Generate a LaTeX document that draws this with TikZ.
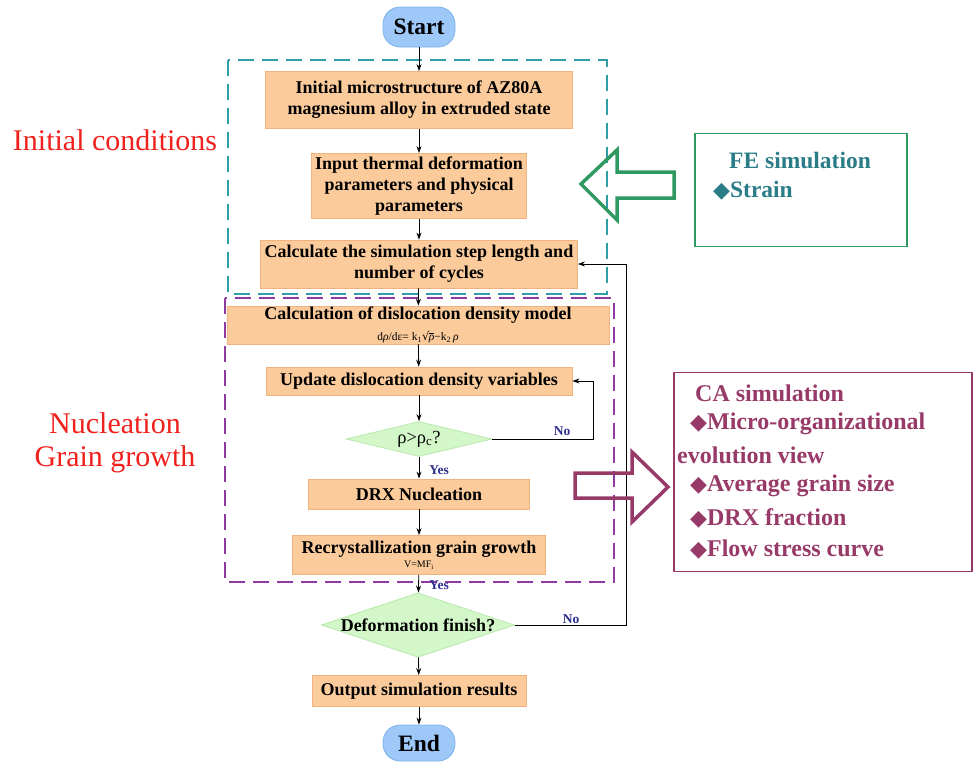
\documentclass[tikz,border=0pt]{standalone}
\usepackage{fontspec}
\setmainfont{Liberation Serif}
\newfontfamily\dejavu{DejaVu Sans}
\usetikzlibrary{shapes.geometric,arrows.meta}
\definecolor{boxfill}{HTML}{FBCB9C}
\definecolor{boxline}{HTML}{F2B27E}
\definecolor{dfill}{HTML}{D4F7C9}
\definecolor{dline}{HTML}{B9E8AE}
\definecolor{sfill}{HTML}{9DC8F8}
\definecolor{sline}{HTML}{7FB2EC}
\definecolor{cyanbox}{HTML}{2E9FA8}
\definecolor{purplebox}{HTML}{8E3A9E}
\definecolor{fegreen}{HTML}{2E9A62}
\definecolor{feteal}{HTML}{2A7C86}
\definecolor{camaroon}{HTML}{983A68}
\definecolor{yesno}{HTML}{2C2F8E}
\definecolor{redtxt}{HTML}{F0201C}
\newcommand{\dmd}{{\dejavu\fontsize{22}{22}\selectfont ◆}}
\newcommand{\sqrho}{{\dejavu √}\kern-0.6pt$\overline{\hbox{\textit{ρ}}}$}
\tikzset{
  stepbox/.style={draw=boxline, fill=boxfill, line width=0.8pt, align=center, font=\fontsize{18}{21}\selectfont\bfseries, inner sep=1pt},
  plaintext/.style={inner sep=0pt, align=center},
  decbox/.style={draw=dline, fill=dfill, diamond, line width=0.8pt, inner sep=0pt, align=center},
  termbox/.style={draw=sline, fill=sfill, rounded corners=17pt, line width=0.8pt, font=\fontsize{23.5}{25}\selectfont\bfseries},
  flow/.style={-{Stealth[length=7pt,width=5pt]}, line width=0.8pt, black},
  yn/.style={text=yesno, font=\fontsize{13.5}{14}\selectfont\bfseries, inner sep=0pt},
  sidelab/.style={text=redtxt, font=\fontsize{30}{33}\selectfont, inner sep=0pt},
  catext/.style={text=camaroon, font=\fontsize{24}{26}\selectfont\bfseries, anchor=west, inner sep=0pt},
  fetext/.style={text=feteal, font=\fontsize{23.5}{25}\selectfont\bfseries, anchor=west, inner sep=0pt}
}
\begin{document}
\begin{tikzpicture}[x=1pt,y=-1pt]
\useasboundingbox (0,0) rectangle (973,761);
% group boxes
\draw[cyanbox, line width=1.2pt, dash pattern=on 16pt off 8pt] (228,60) rectangle (607,294);
\draw[purplebox, line width=1.2pt, dash pattern=on 16pt off 8pt] (225,298) rectangle (614,582);
% terminals
\node[termbox, minimum width=72pt, minimum height=40pt] (start) at (419,27) {Start};
\node[termbox, minimum width=72pt, minimum height=36pt] (end) at (419,743) {End};
% steps
\node[stepbox, minimum width=307pt, minimum height=57pt] (b1) at (419,100) {Initial microstructure of AZ80A\\magnesium alloy in extruded state};
\node[stepbox, minimum width=215pt, minimum height=65pt] (b2) at (419,186) {Input thermal deformation\\parameters and physical\\parameters};
\node[stepbox, minimum width=317pt, minimum height=48pt] (b3) at (419,264) {Calculate the simulation step length and\\number of cycles};
\node[stepbox, minimum width=382pt, minimum height=38pt] (b4) at (418,325) {};
\node[plaintext, font=\fontsize{18}{18}\selectfont\bfseries] (b4t) at (418,315) {Calculation of dislocation density model};
\node[plaintext, font=\fontsize{11.5}{12}\selectfont] (b4f) at (418,337) {d\textit{ρ}/dε= k\textsubscript{1}\sqrho−k\textsubscript{2}\,\textit{ρ}};
\node[stepbox, minimum width=306pt, minimum height=28pt] (b5) at (419,381) {Update dislocation density variables};
\node[decbox, minimum width=146pt, minimum height=35pt, aspect=4, font=\fontsize{18.5}{19}\selectfont] (d1) at (419,439) {ρ>ρ\textsubscript{c}?};
\node[stepbox, minimum width=221pt, minimum height=30pt] (b6) at (419,494) {DRX Nucleation};
\node[stepbox, minimum width=253pt, minimum height=39pt, font=\fontsize{18}{18}\selectfont\bfseries] (b7) at (419,555) {Recrystallization grain growth\\[-4pt]{\fontsize{10}{11}\selectfont\mdseries V=MF\textsubscript{i}}};
\node[decbox, minimum width=190pt, minimum height=64pt, aspect=3, font=\fontsize{18}{19}\selectfont\bfseries] (d2) at (418,625) {Deformation finish?};
\node[stepbox, minimum width=214pt, minimum height=31pt] (b8) at (419,691) {Output simulation results};
% flow arrows
\draw[flow] (start) -- (b1);
\draw[flow] (b1) -- (b2);
\draw[flow] (b2) -- (b3);
\draw[flow] (b3) -- (b4);
\draw[flow] (b4) -- (b5);
\draw[flow] (b5) -- (d1);
\draw[flow] (d1) -- (b6);
\draw[flow] (b6) -- (b7);
\draw[flow] (b7) -- (d2);
\draw[flow] (d2) -- (b8);
\draw[flow] (b8) -- (end);
\coordinate (f1) at (593,439);
\coordinate (f2) at (626,625);
\draw[flow] (d1.east) -- (f1) |- (b5.east);
\draw[flow] (d2.east) -- (f2) |- (b3.east);
\node[yn] (no1) at (562,431) {No};
\node[yn] (no2) at (571,619) {No};
\node[yn] (yes1) at (439,470) {Yes};
\node[yn] (yes2) at (439,585) {Yes};
% side labels
\node[sidelab] (init) at (115,140) {Initial conditions};
\node[sidelab, align=center] (nuc) at (115,443) {Nucleation\\Grain growth};
% FE box
\node[draw=fegreen, line width=1.5pt, minimum width=212pt, minimum height=113pt, inner sep=0pt] (fe) at (801,190) {};
\node[fetext] (fet) at (729,160) {FE simulation};
\node[fetext] (fes) at (713,191) {\dmd Strain};
\draw[fegreen, line width=3.5pt, line join=miter] (674,172) -- (617,172) -- (617,150) -- (581,184) -- (617,220) -- (617,198) -- (674,198) -- cycle;
% CA box
\node[draw=camaroon, line width=1.2pt, minimum width=298pt, minimum height=199pt, inner sep=0pt] (ca) at (823,472) {};
\node[catext] (ca1) at (695,393) {CA simulation};
\node[catext] (ca2) at (690,424) {\dmd Micro-organizational};
\node[catext] (ca3) at (677,455) {evolution view};
\node[catext] (ca4) at (690,486) {\dmd Average grain size};
\node[catext] (ca5) at (690,518) {\dmd DRX fraction};
\node[catext] (ca6) at (690,550) {\dmd Flow stress curve};
\draw[camaroon, line width=3.5pt, line join=miter] (575,473) -- (632,473) -- (632,452) -- (668,487) -- (632,522) -- (632,498) -- (575,498) -- cycle;
\end{tikzpicture}
\end{document}
